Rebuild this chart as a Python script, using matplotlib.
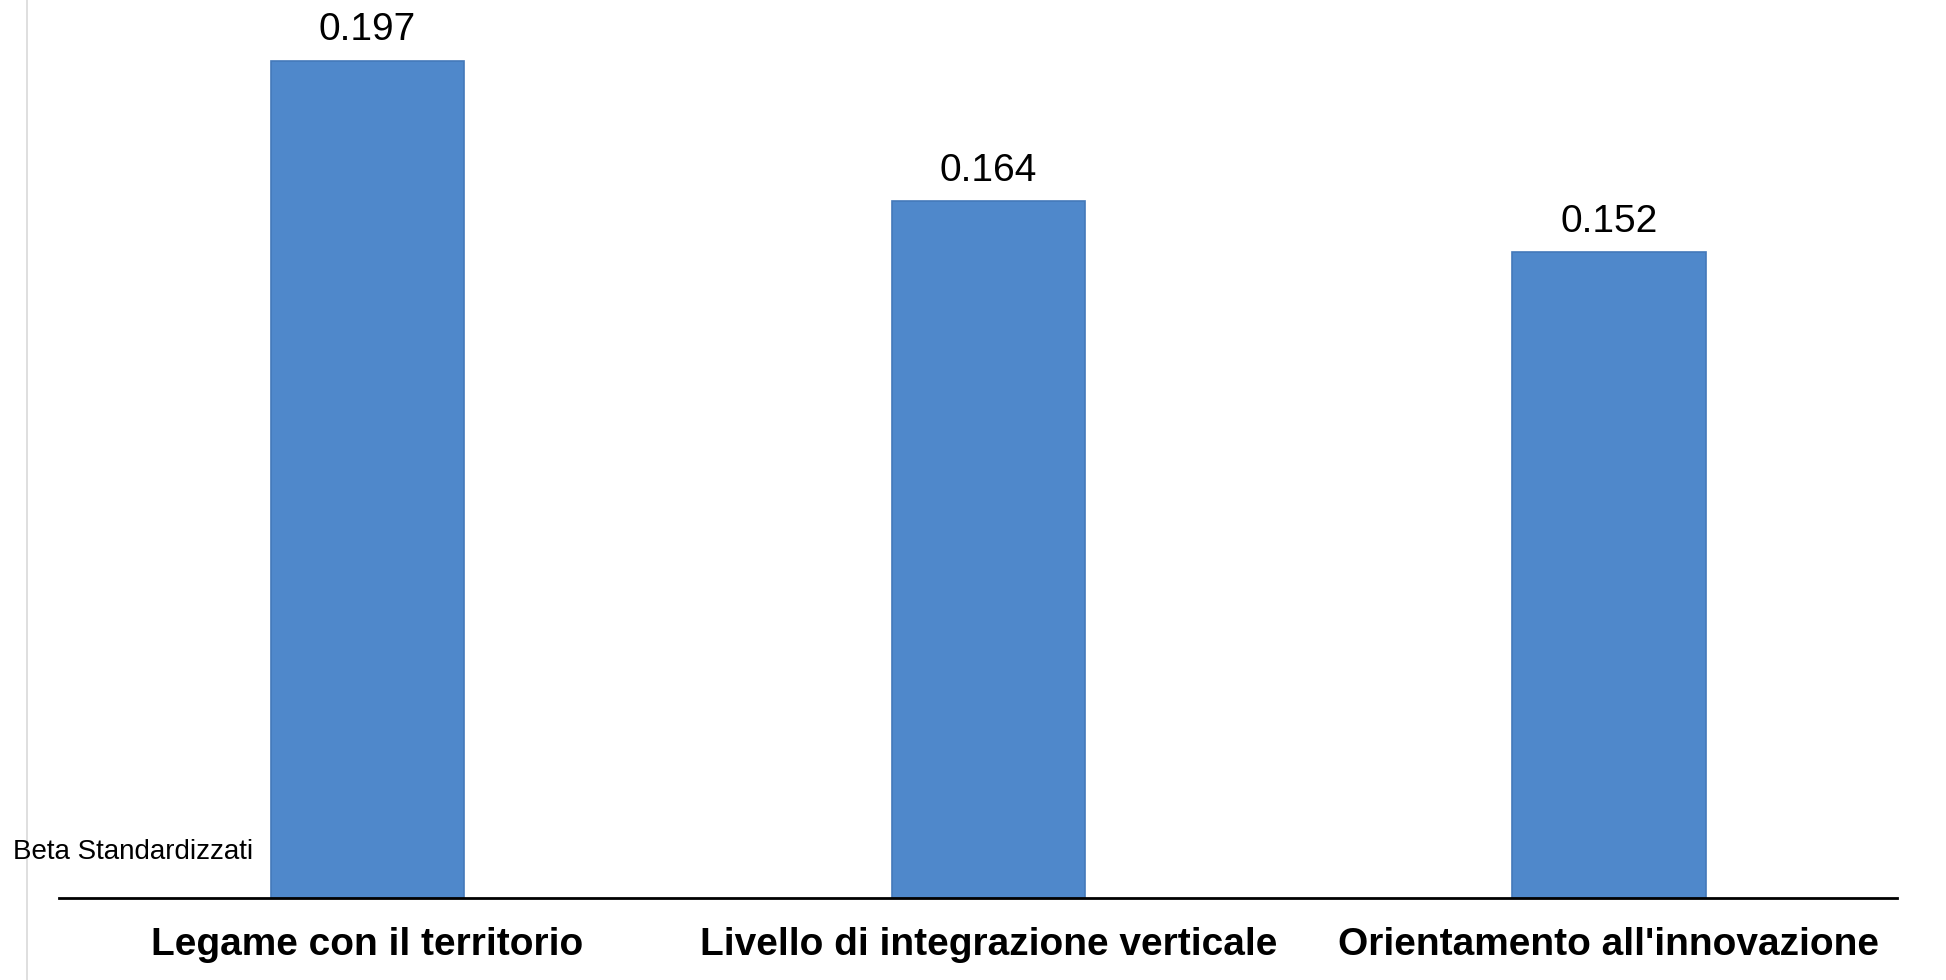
import matplotlib.pyplot as plt
from matplotlib.lines import Line2D

categories = ["Legame con il territorio", "Livello di integrazione verticale", "Orientamento all'innovazione"]
beta = [0.197, 0.164, 0.152]
value_labels = ["0.197", "0.164", "0.152"]

plt.rcParams['font.family'] = ['Liberation Sans', 'DejaVu Sans']

fig = plt.figure(figsize=(19.46, 9.8), dpi=100)
ax = fig.add_axes([59/1946, 82/980, (1897-59)/1946, 0.951 - 82/980])

x = range(len(categories))
bars = ax.bar(x, beta, width=0.311, color="#4F88CB", edgecolor="#4479BA", linewidth=1.2)

for b, lab in zip(bars, value_labels):
    ax.annotate(lab, (b.get_x() + b.get_width()/2, b.get_height()),
                xytext=(0, 9), textcoords="offset points",
                ha="center", va="bottom", fontsize=28)

ax.set_xlim(-0.497, 2.464)
ax.set_ylim(0, 0.2)
ax.set_xticks(list(x))
ax.set_xticklabels(categories, fontsize=28, fontweight="bold")
ax.tick_params(axis="x", length=0, pad=21)
ax.set_yticks([])
for s in ["top", "right", "left"]:
    ax.spines[s].set_visible(False)
ax.spines["bottom"].set_linewidth(2)

fig.add_artist(Line2D([27/1946, 27/1946], [0, 1], color="#D9D9D9", lw=1.2))
fig.text(13/1946, 1 - 852/980, "Beta Standardizzati", fontsize=20, va="center", ha="left")

fig.savefig("out.png", dpi=100)
